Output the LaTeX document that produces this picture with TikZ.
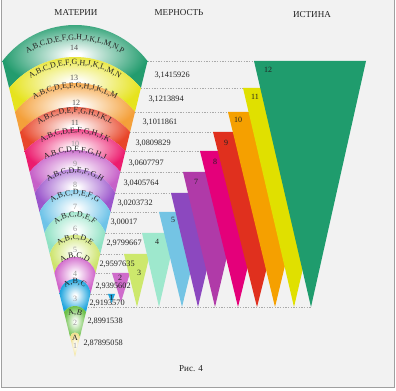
\documentclass[tikz,border=0pt]{standalone}
\usepackage{fontspec}
\setmainfont{Liberation Serif}
\usetikzlibrary{decorations.text}

\definecolor{pagebg}{RGB}{242,242,242}
\definecolor{framegray}{RGB}{160,160,160}
\definecolor{guidegray}{RGB}{170,170,170}
\definecolor{inkdark}{RGB}{35,35,35}
\definecolor{numdark}{RGB}{85,85,85}
\definecolor{numlight}{RGB}{150,150,150}
% fan bands
\definecolor{fan14}{RGB}{35,156,110}
\definecolor{fan13}{RGB}{230,227,30}
\definecolor{fan12}{RGB}{244,160,58}
\definecolor{fan11}{RGB}{232,70,42}
\definecolor{fan10}{RGB}{236,28,110}
\definecolor{fan9}{RGB}{198,96,200}
\definecolor{fan8}{RGB}{155,86,204}
\definecolor{fan7}{RGB}{110,195,232}
\definecolor{fan6}{RGB}{144,226,196}
\definecolor{fan5}{RGB}{205,228,108}
\definecolor{fan4}{RGB}{207,98,201}
\definecolor{fan3}{RGB}{31,165,222}
\definecolor{fan2}{RGB}{108,192,74}
\definecolor{fan1}{RGB}{240,224,140}
% truth wedges
\definecolor{tri12}{RGB}{31,156,109}
\definecolor{tri11}{RGB}{224,224,0}
\definecolor{tri10}{RGB}{245,160,0}
\definecolor{tri9}{RGB}{224,48,30}
\definecolor{tri8}{RGB}{228,0,122}
\definecolor{tri7}{RGB}{176,58,168}
\definecolor{tri6}{RGB}{140,72,191}
\definecolor{tri5}{RGB}{116,196,228}
\definecolor{tri4}{RGB}{158,232,205}
\definecolor{tri3}{RGB}{205,232,108}
\definecolor{tri2}{RGB}{207,108,203}
\definecolor{tri1}{RGB}{30,162,216}

\pgfdeclareradialshading[bandcol]{fanshade}{\pgfpoint{0bp}{0bp}}{color(0bp)=(white); color(2bp)=(white); color(25bp)=(bandcol); color(50bp)=(bandcol)}
\colorlet{bandcol}{white}

\newcommand\bandfont{\fontsize{6}{7}\selectfont\color{inkdark}}

\tikzset{every picture/.style={line width=0.75pt}}
\tikzset{
  fanband/.style={shading=fanshade},
  bandtext/.style={decorate,decoration={text along path,text align=center,text={|\bandfont|#1}}},
  guide/.style={color=guidegray,line width=0.5pt,dash pattern=on 1pt off 1pt},
  headlbl/.style={font=\fontsize{6.8}{8}\selectfont,text=inkdark,inner sep=0pt},
  valuelbl/.style={font=\fontsize{6.2}{7}\selectfont,text=inkdark,anchor=west,inner sep=0pt},
  bandnum/.style={font=\fontsize{6}{7}\selectfont,text=#1,inner sep=0pt},
  trinum/.style={font=\fontsize{6}{7}\selectfont,text=inkdark,inner sep=0pt},
}

\begin{document}
\begin{tikzpicture}[x=0.75pt,y=0.75pt,yscale=-1,xscale=1]
\useasboundingbox (0,0) rectangle (396,391);

%Shape: Rectangle (page)
\fill[pagebg] (1.5,0) rectangle (394,387.5);
\draw[framegray] (1.5,0) -- (1.5,387.5) -- (394,387.5) -- (394,0);

%Shape: Fan bands
\colorlet{bandcol}{fan14}
\shade[fanband] (2.5,61) arc[start angle=-142.81,end angle=-37.19,radius=91] -- (140.89,88) arc[start angle=-39.61,end angle=-140.39,radius=85.52] -- cycle;
\colorlet{bandcol}{fan13}
\shade[fanband] (9.11,88) arc[start angle=-140.39,end angle=-39.61,radius=85.52] -- (135.01,112) arc[start angle=-38.42,end angle=-141.58,radius=76.59] -- cycle;
\colorlet{bandcol}{fan12}
\shade[fanband] (14.99,112) arc[start angle=-141.58,end angle=-38.42,radius=76.59] -- (130.11,132) arc[start angle=-41.20,end angle=-138.80,radius=73.24] -- cycle;
\colorlet{bandcol}{fan11}
\shade[fanband] (19.89,132) arc[start angle=-138.80,end angle=-41.20,radius=73.24] -- (125.46,151) arc[start angle=-42.89,end angle=-137.11,radius=68.87] -- cycle;
\colorlet{bandcol}{fan10}
\shade[fanband] (24.54,151) arc[start angle=-137.11,end angle=-42.89,radius=68.87] -- (120.31,172) arc[start angle=-38.21,end angle=-141.79,radius=57.66] -- cycle;
\colorlet{bandcol}{fan9}
\shade[fanband] (29.69,172) arc[start angle=-141.79,end angle=-38.21,radius=57.66] -- (115.17,193) arc[start angle=-28.29,end angle=-151.71,radius=45.62] -- cycle;
\colorlet{bandcol}{fan8}
\shade[fanband] (34.83,193) arc[start angle=-151.71,end angle=-28.29,radius=45.62] -- (110.51,212) arc[start angle=-26.44,end angle=-153.56,radius=39.66] -- cycle;
\colorlet{bandcol}{fan7}
\shade[fanband] (39.49,212) arc[start angle=-153.56,end angle=-26.44,radius=39.66] -- (105.37,233) arc[start angle=-20.67,end angle=-159.33,radius=32.46] -- cycle;
\colorlet{bandcol}{fan6}
\shade[fanband] (44.63,233) arc[start angle=-159.33,end angle=-20.67,radius=32.46] -- (100.23,254) arc[start angle=-16.03,end angle=-163.97,radius=26.25] -- cycle;
\colorlet{bandcol}{fan5}
\shade[fanband] (49.77,254) arc[start angle=-163.97,end angle=-16.03,radius=26.25] -- (95.57,273) arc[start angle=-14.24,end angle=-165.76,radius=21.22] -- cycle;
\colorlet{bandcol}{fan4}
\shade[fanband] (54.43,273) arc[start angle=-165.76,end angle=-14.24,radius=21.22] -- (90.43,294) arc[start angle=-1.63,end angle=-178.37,radius=15.44] -- cycle;
\colorlet{bandcol}{fan3}
\shade[fanband] (59.57,294) arc[start angle=-178.37,end angle=-1.63,radius=15.44] -- (86.02,312) arc[start angle=-32.87,end angle=-147.13,radius=13.12] -- cycle;
\colorlet{bandcol}{fan2}
\shade[fanband] (63.98,312) arc[start angle=-147.13,end angle=-32.87,radius=13.12] -- (79.90,337) arc[start angle=-4.86,end angle=-175.14,radius=4.917] -- cycle;
\colorlet{bandcol}{fan1}
\shade[fanband] (70.10,337) arc[start angle=-175.14,end angle=-4.86,radius=4.917] -- (75,357) -- cycle;

% Curved letters
\path[bandtext={A,B,C,D,E,F,G,H,J,K,L,M,N,P}] (-10.97,105.97) arc[start angle=-165,end angle=-15,radius=89];
\path[bandtext={A,B,C,D,E,F,G,H,J,K,L,M,N}] (-3.24,125.04) arc[start angle=-165,end angle=-15,radius=81];
\path[bandtext={A,B,C,D,E,F,G,H,J,K,L,M}] (-1.31,146.55) arc[start angle=-165,end angle=-15,radius=79];
\path[bandtext={A,B,C,D,E,F,G,H,J,K,L}] (13.18,160.44) arc[start angle=-165,end angle=-15,radius=64];
\path[bandtext={A,B,C,D,E,F,G,H,J,K}] (12.22,181.18) arc[start angle=-165,end angle=-15,radius=65];
\path[bandtext={A,B,C,D,E,F,G,H,J}] (13.18,199.44) arc[start angle=-165,end angle=-15,radius=64];
\path[bandtext={A,B,C,D,E,F,G,H}] (31.53,206.35) arc[start angle=-165,end angle=-15,radius=45];
\path[bandtext={A,B,C,D,E,F,G}] (38.30,223.17) arc[start angle=-165,end angle=-15,radius=38];
\path[bandtext={A,B,C,D,E,F}] (46.99,238.49) arc[start angle=-165,end angle=-15,radius=29];
\path[bandtext={A,B,C,D,E}] (51.82,257.29) arc[start angle=-165,end angle=-15,radius=24];
\path[bandtext={A,B,C,D}] (53.75,274.31) arc[start angle=-165,end angle=-15,radius=22];
\path[bandtext={A,B,C}] (61.48,294.38) arc[start angle=-165,end angle=-15,radius=14];
\path[bandtext={A,B}] (61.48,324.88) arc[start angle=-165,end angle=-15,radius=14];
% Text Node
\node[trinum] (a1) at (75,337.5) {A};

% Text Node (band numbers)
\node[bandnum=numdark] (n14) at (74,48) {14};
\node[bandnum=numdark] (n13) at (74,78) {13};
\node[bandnum=numdark] (n12) at (76,103) {12};
\node[bandnum=numdark] (n11) at (75,123) {11};
\node[bandnum=numlight] (n10) at (75,144) {10};
\node[bandnum=numlight] (n9) at (75,164) {9};
\node[bandnum=numlight] (n8) at (75,185) {8};
\node[bandnum=numlight] (n7) at (75,207) {7};
\node[bandnum=numlight] (n6) at (75,229) {6};
\node[bandnum=numlight] (n5) at (75,250) {5};
\node[bandnum=numlight] (n4) at (75,274) {4};
\node[bandnum=numlight] (n3) at (75,299) {3};
\node[bandnum=numlight] (n2) at (75,323) {2};
\node[bandnum=numlight] (n1) at (75,346) {1};

%Straight Lines (dotted guides)
\draw[guide] (147.5,61) -- (254,61);
\draw[guide] (140.89,88) -- (243,88);
\draw[guide] (135.01,112) -- (228,112);
\draw[guide] (130.11,132) -- (213,132);
\draw[guide] (125.46,151) -- (200,151);
\draw[guide] (120.31,172) -- (183,172);
\draw[guide] (115.17,193) -- (171,193);
\draw[guide] (110.51,212) -- (159,212);
\draw[guide] (105.37,233) -- (142,233);
\draw[guide] (100.23,254) -- (124,254);
\draw[guide] (95.57,273) -- (112,273);
\draw[guide] (90.43,294) -- (108,294);
\draw[guide] (88,307.5) -- (312,307.5);

%Shape: Triangles
\fill[tri2] (112,273) -- (130,273) -- (121,302) -- cycle;
\fill[tri3] (124,254) -- (150,254) -- (137,307) -- cycle;
\fill[tri4] (142,233) -- (176,233) -- (159,307) -- cycle;
\fill[tri5] (159,212) -- (205,212) -- (182,307) -- cycle;
\fill[tri6] (171,193) -- (225,193) -- (198,307) -- cycle;
\fill[tri7] (183,172) -- (247,172) -- (215,307) -- cycle;
\fill[tri8] (200,151) -- (276,151) -- (238,307) -- cycle;
\fill[tri9] (213,132) -- (301,132) -- (257,307) -- cycle;
\fill[tri10] (228,112) -- (322,112) -- (275,307) -- cycle;
\fill[tri11] (243,88) -- (345,88) -- (294,307) -- cycle;
\fill[tri12] (254,61) -- (366,61) -- (311,307) -- cycle;

% Text Node (wedge numbers)
\node[trinum] (w12) at (268,70) {12};
\node[trinum] (w11) at (255,97) {11};
\node[trinum] (w10) at (238,120) {10};
\node[trinum] (w9) at (226,143) {9};
\node[trinum] (w8) at (215,162) {8};
\node[trinum] (w7) at (196,182) {7};
\node[trinum] (w5) at (173,220) {5};
\node[trinum] (w4) at (157,242) {4};
\node[trinum] (w3) at (139,273) {3};
\node[trinum] (w2) at (120,278) {2};

% Text Node (values)
\node[valuelbl] (v14) at (154,75) {3,1415926};
\node[valuelbl] (v13) at (148,99) {3,1213894};
\node[valuelbl] (v12) at (142,122) {3,1011861};
\node[valuelbl] (v11) at (135,143) {3,0809829};
\node[valuelbl] (v10) at (128,163) {3,0607797};
\node[valuelbl] (v9) at (123,183) {3,0405764};
\node[valuelbl] (v8) at (117,203) {3,0203732};
\node[valuelbl] (v7) at (110,222) {3,00017};
\node[valuelbl] (v6) at (106,243) {2,9799667};
\node[valuelbl] (v5) at (99,264) {2,9597635};
\node[valuelbl] (v4) at (95,286) {2,9395602};
\node[valuelbl] (v3) at (89,303) {2,9193570};
\node[valuelbl] (v2) at (87,321) {2,8991538};
\node[valuelbl] (v1) at (83,343) {2,87895058};

%Shape: small wedge 1
\fill[tri1] (108,294) -- (115,294) -- (111.5,303) -- cycle;
\node[trinum] (w1) at (111.5,298) {1};

% Text Node (headers)
\node[headlbl] (hmat) at (76,13) {МАТЕРИИ};
\node[headlbl] (hmer) at (179,13) {МЕРНОСТЬ};
\node[headlbl] (hist) at (312,15) {ИСТИНА};
\node[headlbl] (fig) at (191,369) {Рис. 4};

\end{tikzpicture}
\end{document}
